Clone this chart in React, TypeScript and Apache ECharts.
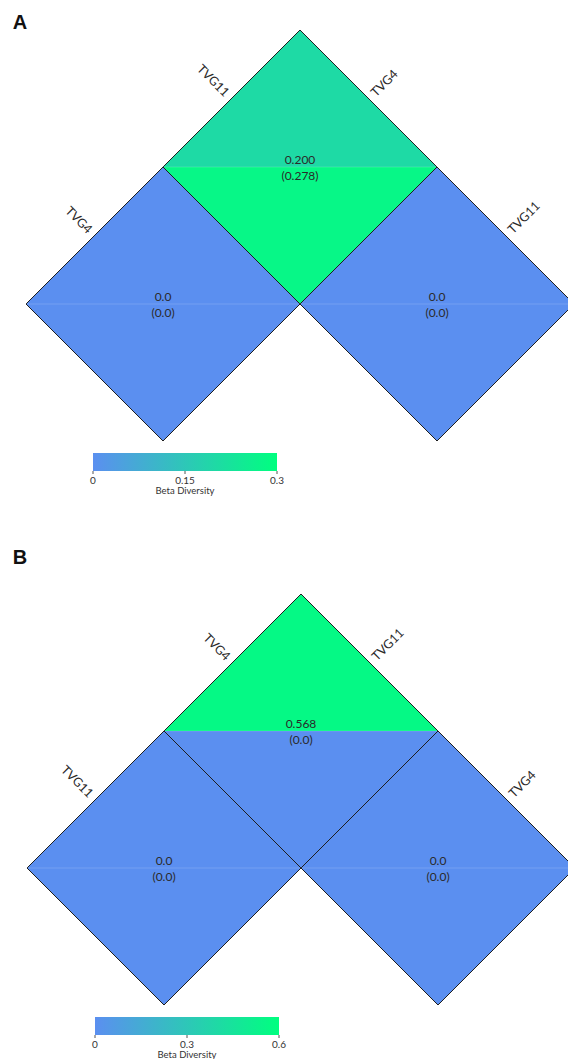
import React, { useEffect, useRef } from 'react';
import * as echarts from 'echarts';

const BLUE = '#5b8ff0';
const GREEN = '#00ff7f';
const FONT = 'Lato, "DejaVu Sans", sans-serif';

// Panel A: row labels run down the upper-left side, column labels down the upper-right side
const rowsA = ['TVG11', 'TVG4'];
const colsA = ['TVG4', 'TVG11'];
// [row, col, upper value, lower value]
const cellsA: number[][] = [
  [0, 0, 0.2, 0.278],
  [1, 0, 0.0, 0.0],
  [0, 1, 0.0, 0.0],
];
const scaleMaxA = 0.3;
const ticksA = [0, 0.15, 0.3];

// Panel B
const rowsB = ['TVG4', 'TVG11'];
const colsB = ['TVG11', 'TVG4'];
const cellsB: number[][] = [
  [0, 0, 0.568, 0.0],
  [1, 0, 0.0, 0.0],
  [0, 1, 0.0, 0.0],
];
const scaleMaxB = 0.6;
const ticksB = [0, 0.3, 0.6];

const legendTitle = 'Beta Diversity';

// one data unit = half a diamond's diagonal, in px
const UNIT = 137;
const X_MIN = -2;
const X_MAX = 1.9; // the right-hand diamond runs off the page edge
const Y_MIN = -1;
const Y_MAX = 2;

const fmt = (v: number) => (v === 0 ? '0.0' : v.toFixed(3));

// each diamond is split into an upper and a lower triangle: [col, row, half, value]
const toHalves = (cells: number[][]) =>
  cells.flatMap(([r, c, u, l]) => [
    [c, r, 0, u],
    [c, r, 1, l],
  ]);

function renderCell(params: any, api: any) {
  const c = api.value(0);
  const r = api.value(1);
  const half = api.value(2);
  const v = api.value(3);
  const X = c - r;
  const Y = r + c;
  const L = api.coord([X - 1, Y]);
  const R = api.coord([X + 1, Y]);
  const tip = api.coord([X, half === 0 ? Y - 1 : Y + 1]);
  const ctr = api.coord([X, Y]);
  const children: any[] = [
    {
      type: 'polygon',
      shape: { points: [L, tip, R] },
      style: { fill: api.visual('color'), lineWidth: 0 },
    },
  ];
  if (half === 1) {
    children.push({
      type: 'line',
      shape: { x1: L[0], y1: L[1], x2: R[0], y2: R[1] },
      style: { stroke: 'rgba(255,255,255,0.16)', lineWidth: 1 },
    });
  }
  children.push(
    {
      type: 'polyline',
      shape: { points: [L, tip, R] },
      style: { fill: null, stroke: '#1e1e1e', lineWidth: 1 },
    },
    {
      type: 'text',
      x: ctr[0],
      y: ctr[1] + (half === 0 ? -8 : 8),
      style: {
        text: half === 0 ? fmt(v) : `(${fmt(v)})`,
        fill: '#2a2a2a',
        fontSize: 12,
        fontFamily: FONT,
        align: 'center',
        verticalAlign: 'middle',
      },
    }
  );
  return { type: 'group', children };
}

function makeLabelRender(rows: string[], cols: string[]) {
  return (params: any, api: any) => {
    const i = api.value(0);
    const kind = api.value(1);
    const off = 6 / Math.SQRT2;
    let p: number[];
    let name: string;
    let rotation: number;
    let align: string;
    let dx: number;
    if (kind === 0) {
      p = api.coord([-i - 0.5, i - 0.5]);
      name = rows[i];
      rotation = -Math.PI / 4;
      align = 'right';
      dx = -off;
    } else {
      p = api.coord([i + 0.5, i - 0.5]);
      name = cols[i];
      rotation = Math.PI / 4;
      align = 'left';
      dx = off;
    }
    return {
      type: 'text',
      x: p[0] + dx,
      y: p[1] - off,
      rotation,
      style: {
        text: name,
        fill: '#2a2a2a',
        fontSize: 12.5,
        fontFamily: FONT,
        align,
        verticalAlign: 'middle',
      },
    };
  };
}

const labelData = (rows: string[], cols: string[]) => [
  ...rows.map((_, i) => [i, 0]),
  ...cols.map((_, i) => [i, 1]),
];

function colorBar(x0: number, y0: number, w: number, h: number, max: number, ticks: number[]) {
  const els: any[] = [
    {
      type: 'rect',
      shape: { x: x0, y: y0, width: w, height: h },
      style: {
        fill: new echarts.graphic.LinearGradient(0, 0, 1, 0, [
          { offset: 0, color: BLUE },
          { offset: 1, color: GREEN },
        ]),
      },
    },
  ];
  ticks.forEach((t) => {
    const x = x0 + (t / max) * w;
    els.push(
      {
        type: 'line',
        shape: { x1: x, y1: y0 + h, x2: x, y2: y0 + h + 3 },
        style: { stroke: '#555', lineWidth: 1 },
      },
      {
        type: 'text',
        x,
        y: y0 + h + 9,
        style: {
          text: String(t),
          fill: '#333',
          fontSize: 10,
          fontFamily: FONT,
          align: 'center',
          verticalAlign: 'middle',
        },
      }
    );
  });
  els.push({
    type: 'text',
    x: x0 + w / 2,
    y: y0 + h + 19,
    style: {
      text: legendTitle,
      fill: '#333',
      fontSize: 9.5,
      fontFamily: FONT,
      align: 'center',
      verticalAlign: 'middle',
    },
  });
  return els;
}

export default function App() {
  const ref = useRef<HTMLDivElement>(null);

  useEffect(() => {
    if (!ref.current) return;
    const chart = echarts.init(ref.current, undefined, { renderer: 'svg' });
    const axisX = (gridIndex: number) => ({
      type: 'value',
      gridIndex,
      min: X_MIN,
      max: X_MAX,
      show: false,
    });
    const axisY = (gridIndex: number) => ({
      type: 'value',
      gridIndex,
      min: Y_MIN,
      max: Y_MAX,
      inverse: true,
      show: false,
    });
    const gw = (X_MAX - X_MIN) * UNIT;
    const gh = (Y_MAX - Y_MIN) * UNIT;
    chart.setOption({
      animation: false,
      grid: [
        { left: 26, top: 30, width: gw, height: gh },
        { left: 27, top: 594, width: gw, height: gh },
      ],
      xAxis: [axisX(0), axisX(1)],
      yAxis: [axisY(0), axisY(1)],
      visualMap: [
        {
          type: 'continuous',
          show: false,
          seriesIndex: 0,
          dimension: 3,
          min: 0,
          max: scaleMaxA,
          inRange: { color: [BLUE, GREEN] },
        },
        {
          type: 'continuous',
          show: false,
          seriesIndex: 2,
          dimension: 3,
          min: 0,
          max: scaleMaxB,
          inRange: { color: [BLUE, GREEN] },
        },
      ],
      series: [
        {
          type: 'custom',
          xAxisIndex: 0,
          yAxisIndex: 0,
          renderItem: renderCell,
          data: toHalves(cellsA),
          silent: true,
        },
        {
          type: 'custom',
          xAxisIndex: 0,
          yAxisIndex: 0,
          renderItem: makeLabelRender(rowsA, colsA),
          data: labelData(rowsA, colsA),
          silent: true,
        },
        {
          type: 'custom',
          xAxisIndex: 1,
          yAxisIndex: 1,
          renderItem: renderCell,
          data: toHalves(cellsB),
          silent: true,
        },
        {
          type: 'custom',
          xAxisIndex: 1,
          yAxisIndex: 1,
          renderItem: makeLabelRender(rowsB, colsB),
          data: labelData(rowsB, colsB),
          silent: true,
        },
      ],
      graphic: [
        {
          type: 'text',
          x: 20,
          y: 22,
          style: {
            text: 'A',
            fill: '#111',
            fontSize: 20,
            fontWeight: 'bold',
            fontFamily: '"Liberation Sans", Arial, sans-serif',
            align: 'center',
            verticalAlign: 'middle',
          },
        },
        {
          type: 'text',
          x: 20,
          y: 557,
          style: {
            text: 'B',
            fill: '#111',
            fontSize: 20,
            fontWeight: 'bold',
            fontFamily: '"Liberation Sans", Arial, sans-serif',
            align: 'center',
            verticalAlign: 'middle',
          },
        },
        ...colorBar(93, 453, 184, 18, scaleMaxA, ticksA),
        ...colorBar(95, 1017, 184, 18, scaleMaxB, ticksB),
      ],
    });
    return () => chart.dispose();
  }, []);

  return (
    <div
      ref={ref}
      style={{ position: 'absolute', left: 0, top: 0, width: 568, height: 1059, background: '#fff' }}
    />
  );
}
